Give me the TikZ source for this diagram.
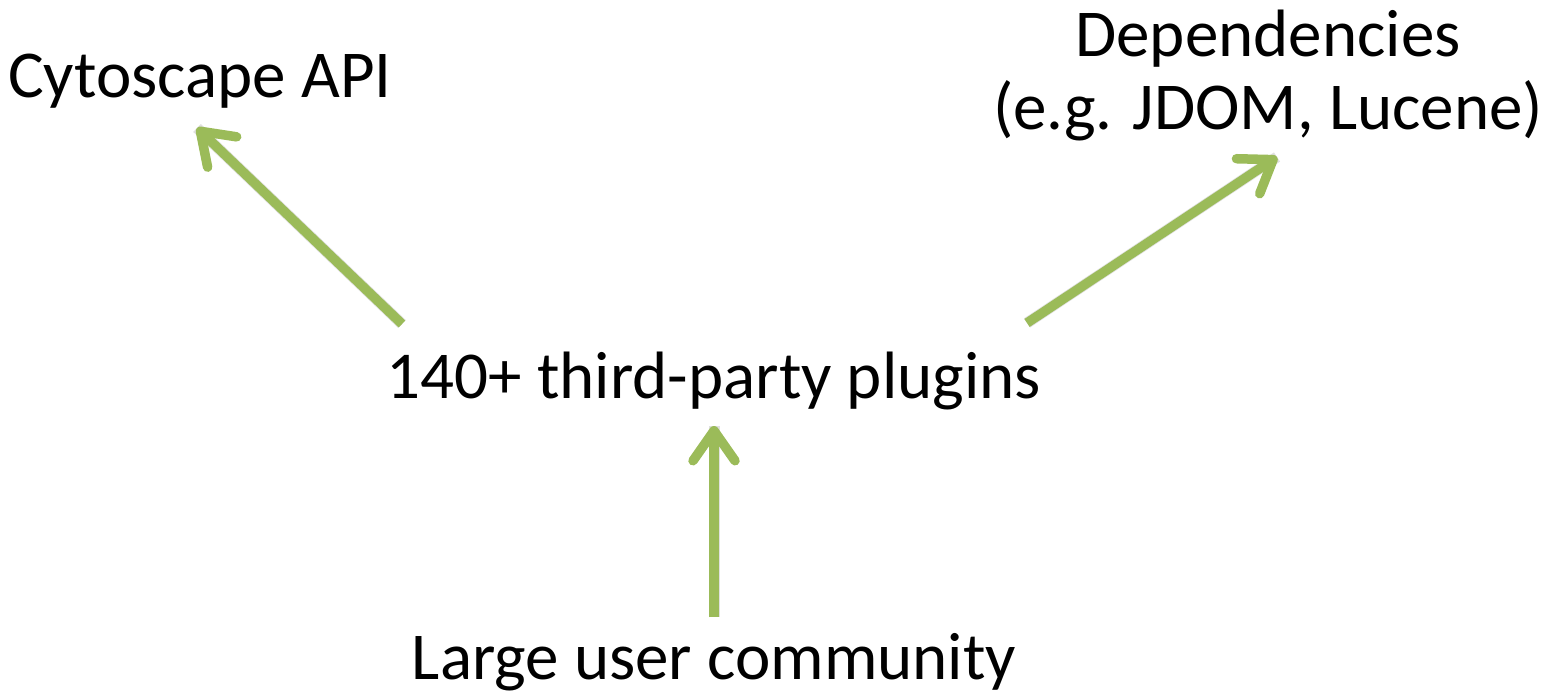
\documentclass[tikz,border=0pt]{standalone}
\usepackage{fontspec}
\setmainfont{Carlito}
\usetikzlibrary{arrows.meta}
\usepackage{xcolor}
\definecolor{leafgreen}{HTML}{9BBB59}

\tikzset{
  lbl/.style={font=\fontsize{67}{73}\selectfont, inner sep=0pt, anchor=base, align=center},
  feed/.style={leafgreen, line width=9.5pt,
    -{Straight Barb[length=30pt, width=42pt, line cap=round, line join=round]}},
  feedshadow/.style={black, opacity=0.12, line width=11pt, shift={(2,3)}}
}

\begin{document}
\begin{tikzpicture}[x=1pt,y=-1pt]
\useasboundingbox (0,0) rectangle (1554,696);
\node[lbl] (api) at (200,97) {Cytoscape API};
\node[lbl] (deps) at (1268,129) {Dependencies\\(e.g. JDOM, Lucene)};
\node[lbl] (plug) at (714,398) {140+ third-party plugins};
\node[lbl] (comm) at (714,679) {Large user community};
% arrow ends
\coordinate (apiTail) at (402,324);
\coordinate (apiTip) at (197,128);
\coordinate (depTail) at (1027,323);
\coordinate (depTip) at (1277,157);
\coordinate (commTail) at (714,617);
\coordinate (commTip) at (714,426);
% shadows
\draw[feedshadow] (apiTail) -- (apiTip);
\draw[feedshadow] (depTail) -- (depTip);
\draw[feedshadow] (commTail) -- (commTip);
\draw[feed] (apiTail) -- (apiTip);
\draw[feed] (depTail) -- (depTip);
\draw[feed] (commTail) -- (commTip);
\end{tikzpicture}
\end{document}
